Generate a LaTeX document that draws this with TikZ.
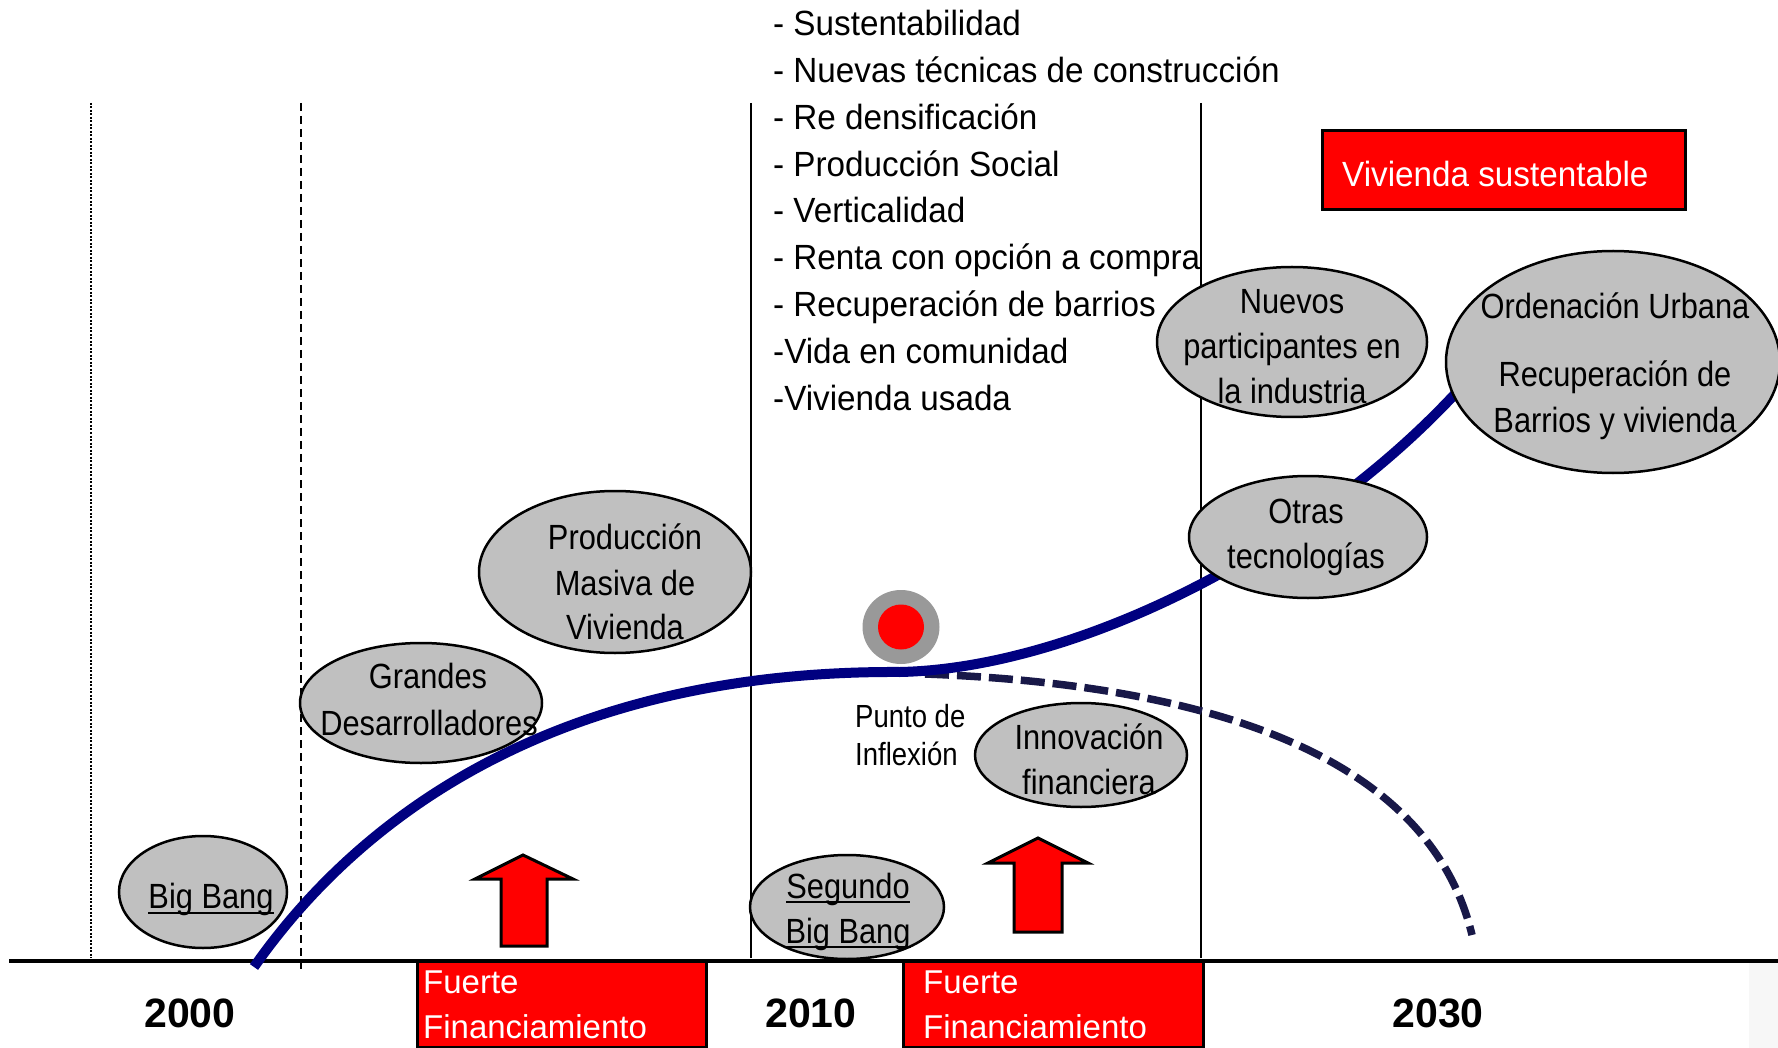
\documentclass[tikz,border=0pt]{standalone}
\usepackage{fontspec}
\setmainfont{Liberation Sans}
\newfontfamily\narf[FakeStretch=0.88]{Liberation Sans}
\newfontfamily\listf[FakeStretch=0.95]{Liberation Sans}
\newfontfamily\pif[FakeStretch=0.86]{Liberation Sans}
\usetikzlibrary{shapes.geometric}
\definecolor{navyc}{RGB}{0,0,128}
\definecolor{dnavy}{RGB}{24,24,72}
\definecolor{bubgray}{RGB}{192,192,192}
\definecolor{dotgray}{RGB}{153,153,153}
\tikzset{
  bub/.style={ellipse, draw=black, line width=2.5pt, fill=bubgray, inner sep=0pt},
  btxt/.style={anchor=base, inner sep=0pt, font=\narf\fontsize{35}{42}\selectfont},
  ltxt/.style={anchor=base west, inner sep=0pt, font=\listf\fontsize{35}{42}\selectfont},
  ptxt/.style={anchor=base west, inner sep=0pt, font=\pif\fontsize{32}{38}\selectfont},
  redbox/.style={rectangle, draw=black, line width=3pt, fill=red, inner sep=0pt},
  wtxt/.style={anchor=base west, inner sep=0pt, text=white, font=\fontsize{33}{40}\selectfont},
  vtxt/.style={anchor=base west, inner sep=0pt, text=white, font=\listf\fontsize{35}{42}\selectfont},
  yeartxt/.style={anchor=base, inner sep=0pt, font=\bfseries\fontsize{41}{47}\selectfont},
  redarrow/.style={draw=black, line width=3pt, fill=red, line join=miter},
  uline/.style={line width=2pt}
}
\begin{document}
\begin{tikzpicture}[x=1pt,y=-1pt]
\useasboundingbox (0,0) rectangle (1778,1048);
\fill[white] (0,0) rectangle (1778,1048);
\fill[black!3] (1749,963) rectangle (1778,1048);

% vertical separators
\draw[line width=2pt, dash pattern=on 2pt off 1.5pt] (91,103) -- (91,958);
\draw[line width=2.5pt, dash pattern=on 8pt off 5pt] (301,103) -- (301,973);
\draw[line width=2pt] (751,103) -- (751,958);
\draw[line width=2pt] (1201,103) -- (1201,958);

% red boxes
\node[redbox, minimum width=289pt, minimum height=86pt] (ff1) at (561.5,1004) {};
\node[redbox, minimum width=300pt, minimum height=86pt] (ff2) at (1053,1004) {};
\node[redbox, minimum width=363pt, minimum height=79pt] (vs) at (1503.5,170.5) {};

% time axis
\draw[line width=3.5pt] (9,961) -- (1778,961);

% curves
\draw[dnavy, line width=7.5pt, dash pattern=on 24pt off 8pt]
  (925,674) .. controls (1220,685) and (1430,760) .. (1472,935);
\draw[navyc, line width=10pt]
  (254,967) .. controls (350,830) and (540,670) .. (900,672)
            .. controls (1080,668) and (1320,545) .. (1465,383);

% bubbles
\node[bub, minimum width=168pt, minimum height=112pt] (bb) at (203,892) {};
\node[bub, minimum width=242pt, minimum height=120pt] (gd) at (421,703) {};
\node[bub, minimum width=272pt, minimum height=162pt] (pm) at (615,572) {};
\node[bub, minimum width=194pt, minimum height=104pt] (sb) at (847,907) {};
\node[bub, minimum width=212pt, minimum height=104pt] (inf) at (1081,755) {};
\node[bub, minimum width=238pt, minimum height=122pt] (ot) at (1308,537) {};
\node[bub, minimum width=270pt, minimum height=150pt] (np) at (1292,342) {};
\node[bub, minimum width=334pt, minimum height=222pt] (ou) at (1613,362) {};

% inflection point
\node[ellipse, fill=dotgray, minimum width=77pt, minimum height=74pt, inner sep=0pt] (ipo) at (901,627) {};
\node[ellipse, fill=red, minimum width=46pt, minimum height=45pt, inner sep=0pt] (ipi) at (901,627) {};

% arrows
\draw[redarrow] (501,946) -- (501,879) -- (475,879) -- (523,855) -- (573,879) -- (547,879) -- (547,946) -- cycle;
\draw[redarrow] (1014,932) -- (1014,863) -- (988,863) -- (1038,838) -- (1088,863) -- (1062,863) -- (1062,932) -- cycle;

% bubble texts
\node[btxt] (bbt) at (211,908) {Big Bang};
\draw[uline] ([yshift=-5pt]bbt.base west) -- ([yshift=-5pt]bbt.base east);
\node[btxt] (gdt1) at (428,688) {Grandes};
\node[btxt] (gdt2) at (429,735) {Desarrolladores};
\node[btxt] (pmt1) at (625,549) {Producción};
\node[btxt] (pmt2) at (625,595) {Masiva de};
\node[btxt] (pmt3) at (625,639) {Vivienda};
\node[btxt] (sbt1) at (848,898) {Segundo};
\node[btxt] (sbt2) at (848,943) {Big Bang};
\draw[uline] ([yshift=-4pt]sbt1.base west) -- ([yshift=-4pt]sbt1.base east);
\draw[uline] ([yshift=-4pt]sbt2.base west) -- ([yshift=-4pt]sbt2.base east);
\node[btxt] (inft1) at (1089,749) {Innovación};
\node[btxt] (inft2) at (1089,794) {financiera};
\node[btxt] (ott1) at (1306,523) {Otras};
\node[btxt] (ott2) at (1306,568) {tecnologías};
\node[btxt] (npt1) at (1292,314) {Nuevos};
\node[btxt] (npt2) at (1292,359) {participantes en};
\node[btxt] (npt3) at (1292,403) {la industria};
\node[btxt] (out1) at (1615,319) {Ordenación Urbana};
\node[btxt] (out2) at (1615,387) {Recuperación de};
\node[btxt] (out3) at (1615,432) {Barrios y vivienda};

% punto de inflexion
\node[ptxt] (pi1) at (855,727) {Punto de};
\node[ptxt] (pi2) at (855,765) {Inflexión};

% list
\node[ltxt] (l1) at (773,36) {- Sustentabilidad};
\node[ltxt] (l2) at (773,82.75) {- Nuevas técnicas de construcción};
\node[ltxt] (l3) at (773,129.5) {- Re densificación};
\node[ltxt] (l4) at (773,176.25) {- Producción Social};
\node[ltxt] (l5) at (773,223) {- Verticalidad};
\node[ltxt] (l6) at (773,269.75) {- Renta con opción a compra};
\node[ltxt] (l7) at (773,316.5) {- Recuperación de barrios};
\node[ltxt] (l8) at (773,363.25) {-Vida en comunidad};
\node[ltxt] (l9) at (773,410) {-Vivienda usada};

% box texts
\node[vtxt] (vst) at (1342,187) {Vivienda sustentable};
\node[wtxt] (ff1a) at (423,993) {Fuerte};
\node[wtxt] (ff1b) at (423,1038) {Financiamiento};
\node[wtxt] (ff2a) at (923,993) {Fuerte};
\node[wtxt] (ff2b) at (923,1038) {Financiamiento};

% years
\node[yeartxt] (y2000) at (190,1027) {2000};
\node[yeartxt] (y2010) at (811,1027) {2010};
\node[yeartxt] (y2030) at (1438,1027) {2030};
\end{tikzpicture}
\end{document}
